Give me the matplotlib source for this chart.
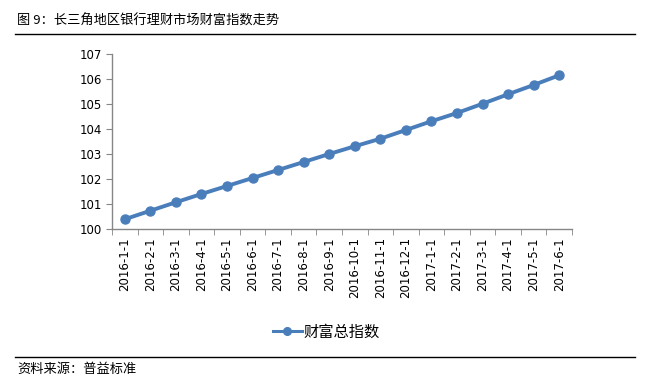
import numpy as np
import matplotlib
matplotlib.use("Agg")
import matplotlib.pyplot as plt
from matplotlib.lines import Line2D

plt.rcParams['font.family'] = ['Noto Sans CJK SC', 'DejaVu Sans']

# Datos
fechas = ["2016-1-1", "2016-2-1", "2016-3-1", "2016-4-1", "2016-5-1", "2016-6-1",
          "2016-7-1", "2016-8-1", "2016-9-1", "2016-10-1", "2016-11-1", "2016-12-1",
          "2017-1-1", "2017-2-1", "2017-3-1", "2017-4-1", "2017-5-1", "2017-6-1"]
indice = [100.39, 100.73, 101.07, 101.40, 101.72, 102.04, 102.36, 102.68, 103.00,
          103.31, 103.61, 103.96, 104.31, 104.64, 105.01, 105.39, 105.76, 106.15]
serie = "财富总指数"
titulo = "图 9：长三角地区银行理财市场财富指数走势"
fuente = "资料来源：普益标准"

color = "#4A7EBB"
gris = "#868686"

fig = plt.figure(figsize=(6.5, 3.88), dpi=100)
ax = fig.add_axes([112 / 650, 1 - 229 / 388, (572 - 112) / 650, (229 - 54) / 388])

x = np.arange(len(fechas))
ax.plot(x, indice, "-o", color=color, linewidth=2.8, markersize=6.5, label=serie)

ax.set_xlim(-0.5, len(fechas) - 0.5)
ax.set_ylim(100, 107)
ax.set_yticks(range(100, 108))
ax.set_xticks(x)
ax.set_xticklabels(fechas, rotation=90, fontsize=8.5, family=['DejaVu Sans'])
ax.set_xticks(np.arange(-0.5, len(fechas)), minor=True)
ax.tick_params(axis="x", which="major", length=0, pad=6)
ax.tick_params(axis="x", which="minor", length=4, color=gris, direction="out")
ax.tick_params(axis="y", length=4, color=gris, labelsize=8.5)
for lab in ax.get_yticklabels():
    lab.set_family(['DejaVu Sans'])
for s in ["top", "right"]:
    ax.spines[s].set_visible(False)
for s in ["left", "bottom"]:
    ax.spines[s].set_color(gris)
    ax.spines[s].set_linewidth(1)

handle = Line2D([], [], color=color, marker="o", linewidth=2.2, markersize=5.5)
fig.legend([handle], [serie], loc="center", bbox_to_anchor=(326 / 650, 1 - 332 / 388),
           frameon=False, fontsize=11, handlelength=1.9, handletextpad=0.1)

fig.text(17 / 650, 1 - 21 / 388, titulo, fontsize=9.5, va="center", ha="left")
fig.add_artist(Line2D([15 / 650, 635 / 650], [1 - 34 / 388] * 2, color="black", linewidth=1))
fig.add_artist(Line2D([15 / 650, 635 / 650], [1 - 357 / 388] * 2, color="black", linewidth=1))
fig.text(17 / 650, 1 - 369 / 388, fuente, fontsize=9.5, va="center", ha="left")

plt.savefig("out.png", dpi=100)
plt.close()
